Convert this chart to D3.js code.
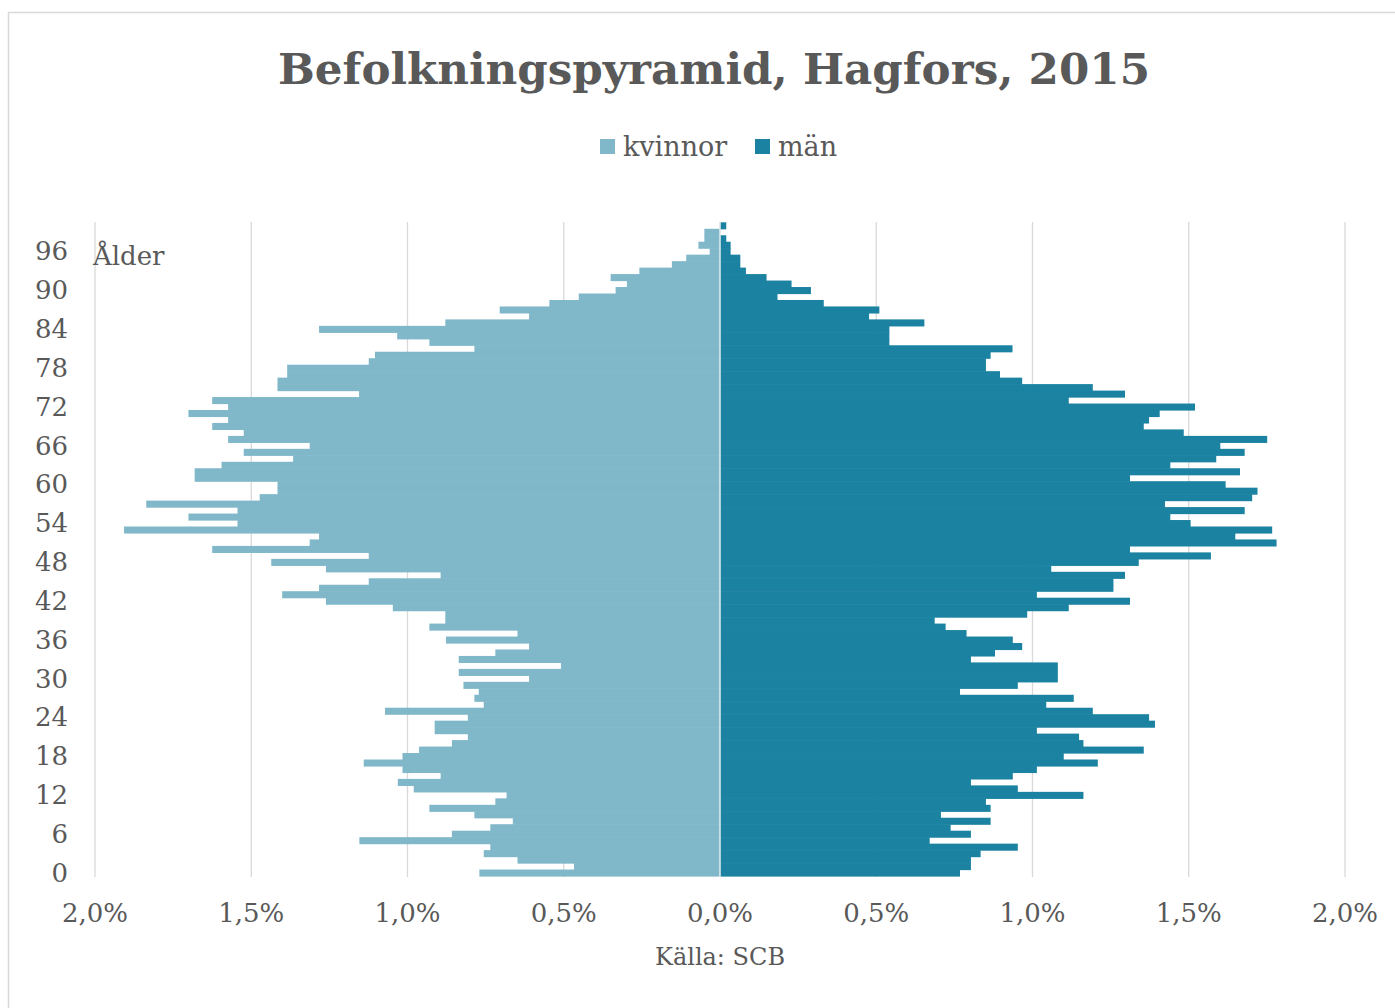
<!DOCTYPE html>
<html>
<head>
<meta charset="utf-8">
<script src="https://cdn.jsdelivr.net/npm/d3@7"></script>
<style>
  body { margin: 0; background: #fff; }
  text { font-family: 'DejaVu Serif', serif; fill: #595959; }
</style>
</head>
<body>
<div id="chart"></div>
<script>
// ages 0..100, share of total population in percent
const ages = d3.range(0, 101)
const kvinnor = [
    0.770, 0.467, 0.648, 0.756, 0.735, 1.154, 0.858, 0.735, 0.663, 0.786,
    0.930, 0.719, 0.683, 0.980, 1.031, 0.894, 1.016, 1.140, 1.016, 0.963,
    0.858, 0.807, 0.913, 0.913, 0.807, 1.072, 0.756, 0.786, 0.772, 0.821,
    0.611, 0.836, 0.509, 0.836, 0.719, 0.611, 0.877, 0.648, 0.930, 0.879,
    0.879, 1.047, 1.261, 1.401, 1.283, 1.124, 0.894, 1.261, 1.436, 1.124,
    1.625, 1.313, 1.283, 1.907, 1.544, 1.701, 1.544, 1.836, 1.473, 1.416,
    1.416, 1.681, 1.681, 1.595, 1.366, 1.524, 1.313, 1.574, 1.524, 1.625,
    1.574, 1.701, 1.574, 1.625, 1.155, 1.416, 1.416, 1.385, 1.385, 1.124,
    1.104, 0.786, 0.930, 1.033, 1.283, 0.879, 0.611, 0.705, 0.546, 0.452,
    0.334, 0.298, 0.350, 0.258, 0.154, 0.108, 0.033, 0.069, 0.050, 0.050,
    0
]
const man = [
    0.768, 0.803, 0.803, 0.834, 0.953, 0.671, 0.803, 0.738, 0.866, 0.707,
    0.866, 0.851, 1.163, 0.953, 0.803, 0.937, 1.014, 1.209, 1.100, 1.356,
    1.163, 1.149, 1.014, 1.392, 1.373, 1.193, 1.044, 1.132, 0.768, 0.953,
    1.081, 1.081, 1.081, 0.803, 0.880, 0.967, 0.937, 0.789, 0.722, 0.687,
    0.983, 1.116, 1.312, 1.014, 1.259, 1.259, 1.296, 1.060, 1.340, 1.571,
    1.312, 1.781, 1.649, 1.767, 1.506, 1.441, 1.679, 1.424, 1.703, 1.720,
    1.618, 1.312, 1.664, 1.441, 1.588, 1.679, 1.601, 1.751, 1.484, 1.356,
    1.373, 1.407, 1.520, 1.116, 1.296, 1.193, 0.967, 0.896, 0.851, 0.851,
    0.866, 0.936, 0.542, 0.542, 0.542, 0.654, 0.477, 0.510, 0.332, 0.184,
    0.291, 0.229, 0.149, 0.083, 0.065, 0.065, 0.034, 0.034, 0.020, 0,
    0.020
]
const xTicks = [-2, -1.5, -1, -0.5, 0, 0.5, 1, 1.5, 2]
const yTicks = d3.range(0, 101, 6)
const seriesNames = ['kvinnor', 'män']
const colors = ['#80b8ca', '#1b83a1']

const width = 1395
const height = 1008
const svg = d3.select('#chart').append('svg').attr('width', width).attr('height', height)

// chart border
svg.append('rect')
    .attr('x', 8.5).attr('y', 12.5)
    .attr('width', 1400).attr('height', 1010)
    .attr('fill', 'none').attr('stroke', '#d9d9d9').attr('stroke-width', 1.5)

let x = d3.scaleLinear().domain([-2, 2]).range([95, 1345])
let y = d3.scaleBand().domain(ages).range([876, 222.3]).padding(0)

// gridlines
svg.append('g').selectAll('line')
    .data(xTicks)
    .enter()
    .append('line')
    .attr('x1', d => x(d)).attr('x2', d => x(d))
    .attr('y1', 222).attr('y2', 877)
    .attr('stroke', '#d9d9d9').attr('stroke-width', 1.3)

// women to the left (small overlap so no seams between bars)
svg.append('g').selectAll('rect')
    .data(ages)
    .enter()
    .append('rect')
    .attr('x', a => x(-kvinnor[a]))
    .attr('y', a => y(a))
    .attr('width', a => x(0) - x(-kvinnor[a]))
    .attr('height', y.bandwidth() + 0.6)
    .attr('fill', colors[0])

// men to the right
svg.append('g').selectAll('rect')
    .data(ages)
    .enter()
    .append('rect')
    .attr('x', x(0))
    .attr('y', a => y(a))
    .attr('width', a => x(man[a]) - x(0))
    .attr('height', y.bandwidth() + 0.6)
    .attr('fill', colors[1])

// thin light line between the halves
svg.append('line')
    .attr('x1', x(0)).attr('x2', x(0))
    .attr('y1', 222).attr('y2', 877)
    .attr('stroke', '#e4ecef').attr('stroke-width', 1.5)

// x labels
svg.append('g').selectAll('text')
    .data(xTicks)
    .enter()
    .append('text')
    .attr('x', d => x(d))
    .attr('y', 922)
    .attr('text-anchor', 'middle')
    .style('font-size', '26px')
    .text(d => d3.format('.1f')(Math.abs(d)).replace('.', ',') + '%')

// y labels
svg.append('g').selectAll('text')
    .data(yTicks)
    .enter()
    .append('text')
    .attr('x', 68)
    .attr('y', a => y(a) + y.bandwidth() / 2 + 9)
    .attr('text-anchor', 'end')
    .style('font-size', '26px')
    .text(a => a)

svg.append('text')
    .attr('x', 93).attr('y', 265)
    .style('font-size', '26px')
    .text('Ålder')

svg.append('text')
    .attr('x', x(0)).attr('y', 965)
    .attr('text-anchor', 'middle')
    .style('font-size', '24px')
    .text('Källa: SCB')

// title, sized to the reference width
let title = svg.append('text')
    .attr('x', 714).attr('y', 84)
    .attr('text-anchor', 'middle')
    .style('font-size', '40px')
    .style('font-weight', 'bold')
    .text('Befolkningspyramid, Hagfors, 2015')
let tl = title.node().getComputedTextLength()
title.style('font-size', (40 * 872 / tl) + 'px')

// legend
let legendX = [600, 755]
seriesNames.forEach(function (name, i) {
    svg.append('rect')
        .attr('x', legendX[i]).attr('y', 139)
        .attr('width', 15).attr('height', 15)
        .attr('fill', colors[i])
    svg.append('text')
        .attr('x', legendX[i] + 23).attr('y', 156)
        .style('font-size', '27px')
        .text(name)
})
</script>
</body>
</html>
